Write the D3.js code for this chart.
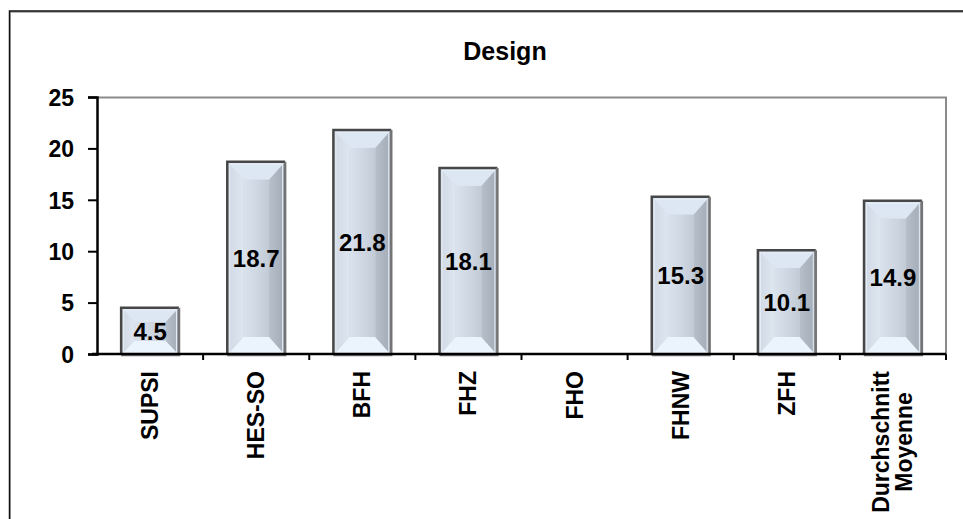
<!DOCTYPE html>
<html>
<head>
<meta charset="utf-8">
<script src="https://cdn.jsdelivr.net/npm/d3@7"></script>
<style>
  body { margin: 0; background: #fff; }
  text { font-family: "Liberation Sans", Arial, sans-serif; font-weight: bold; fill: #000; }
</style>
</head>
<body>
<div id="chart"></div>
<script>
// data
var categories = ["SUPSI", "HES-SO", "BFH", "FHZ", "FHO", "FHNW", "ZFH", "Durchschnitt\nMoyenne"];
var values = [4.5, 18.7, 21.8, 18.1, null, 15.3, 10.1, 14.9];
var yTicks = [0, 5, 10, 15, 20, 25];
var title = "Design";

var svgWidth = 963, svgHeight = 519;
var margin = {top: 97, left: 97, right: 16, bottom: 165};
var chartwidth = 946 - margin.left,
    chartheight = 354 - margin.top;

var svg = d3.select("#chart")
  .append("svg")
    .attr("width", svgWidth)
    .attr("height", svgHeight);

// outer frame (runs past the right and bottom edge)
svg.append("rect")
  .attr("x", 10).attr("y", 12)
  .attr("width", 1000).attr("height", 600)
  .attr("fill", "none").attr("stroke", "#999").attr("stroke-width", 1.5);
svg.append("rect")
  .attr("x", 9.5).attr("y", 11)
  .attr("width", 1000).attr("height", 600)
  .attr("fill", "none").attr("stroke", "#111").attr("stroke-width", 1.5);

svg.append("text")
  .attr("x", 505).attr("y", 60)
  .attr("text-anchor", "middle")
  .style("font-size", "25px")
  .text(title);

var g = svg.append("g")
  .attr("transform", "translate(" + margin.left + "," + margin.top + ")");

var x = d3.scaleBand()
  .domain(categories)
  .range([0, chartwidth])
  .paddingInner(0.455)
  .paddingOuter(0.2275);

var y = d3.scaleLinear()
  .domain([0, 25])
  .range([chartheight, 0]);

// plot area border (grey top + right)
g.append("path")
  .attr("d", "M0,0.5H" + chartwidth + "V" + chartheight)
  .attr("fill", "none").attr("stroke", "#8a8a8a").attr("stroke-width", 2);

// gradients for the bar faces
var defs = svg.append("defs");
var grad = defs.append("linearGradient").attr("id", "panel")
  .attr("x1", "0").attr("x2", "1").attr("y1", "0").attr("y2", "0");
grad.append("stop").attr("offset", "0%").attr("stop-color", "#d9e2ed");
grad.append("stop").attr("offset", "60%").attr("stop-color", "#cdd5e1");
grad.append("stop").attr("offset", "100%").attr("stop-color", "#c2cad6");
var gradL = defs.append("linearGradient").attr("id", "leftBevel")
  .attr("x1", "0").attr("x2", "1").attr("y1", "0").attr("y2", "0");
gradL.append("stop").attr("offset", "0%").attr("stop-color", "#cfd8e3");
gradL.append("stop").attr("offset", "100%").attr("stop-color", "#dee6f0");
var gradR = defs.append("linearGradient").attr("id", "rightBevel")
  .attr("x1", "0").attr("x2", "1").attr("y1", "0").attr("y2", "0");
gradR.append("stop").attr("offset", "0%").attr("stop-color", "#b7bfcb");
gradR.append("stop").attr("offset", "100%").attr("stop-color", "#a2aab6");

var data = categories.map(function(c, i) { return {cat: c, val: values[i]}; })
  .filter(function(d) { return d.val != null; });

var bars = g.selectAll("g.bar")
  .data(data)
  .enter().append("g")
  .attr("class", "bar");

bars.each(function(d) {
  var el = d3.select(this);
  var x0 = x(d.cat), w = x.bandwidth();
  var y0 = y(d.val), y1 = y(0) + 1, h = y1 - y0;
  var b = Math.min(16, h * 0.28);
  var bt = Math.min(18, h * 0.3);
  el.append("rect").attr("x", x0).attr("y", y0).attr("width", w).attr("height", h)
    .attr("fill", "#ccd4df");
  // top bevel
  el.append("path").attr("fill", "#dde7f3")
    .attr("d", "M" + x0 + "," + y0 + "H" + (x0 + w) + "L" + (x0 + w - b) + "," + (y0 + bt) +
               "H" + (x0 + b) + "Z");
  // bottom bevel
  el.append("path").attr("fill", "#ebf4fd")
    .attr("d", "M" + x0 + "," + y1 + "H" + (x0 + w) + "L" + (x0 + w - b) + "," + (y1 - bt) +
               "H" + (x0 + b) + "Z");
  // left bevel
  el.append("path").attr("fill", "url(#leftBevel)")
    .attr("d", "M" + x0 + "," + y0 + "L" + (x0 + b) + "," + (y0 + bt) + "V" + (y1 - bt) +
               "L" + x0 + "," + y1 + "Z");
  // right bevel
  el.append("path").attr("fill", "url(#rightBevel)")
    .attr("d", "M" + (x0 + w) + "," + y0 + "L" + (x0 + w - b) + "," + (y0 + bt) + "V" + (y1 - bt) +
               "L" + (x0 + w) + "," + y1 + "Z");
  // inner panel
  el.append("rect").attr("x", x0 + b).attr("y", y0 + bt)
    .attr("width", w - 2 * b).attr("height", Math.max(0, h - 2 * bt))
    .attr("fill", "url(#panel)");
  // thin highlight just inside the edge
  el.append("rect").attr("x", x0 + 2.5).attr("y", y0 + 2.5)
    .attr("width", w - 5).attr("height", h - 5)
    .attr("fill", "none").attr("stroke", "#e6edf6").attr("stroke-width", 1);
  // edges
  el.append("path").attr("fill", "none").attr("stroke", "#474747").attr("stroke-width", 2.5)
    .attr("d", "M" + x0 + "," + y1 + "V" + y0 + "H" + (x0 + w));
  el.append("path").attr("fill", "none").attr("stroke", "#747474").attr("stroke-width", 2.5)
    .attr("d", "M" + (x0 + w) + "," + y0 + "V" + y1 + "H" + x0);
});

// value labels
bars.append("text")
  .attr("x", function(d) { return x(d.cat) + x.bandwidth() / 2; })
  .attr("y", function(d) { return (y(d.val) + y(0)) / 2; })
  .attr("dy", "0.36em")
  .attr("text-anchor", "middle")
  .style("font-size", "24px")
  .text(function(d) { return d.val.toFixed(1); });

// Y axis
var yAxis = g.append("g")
  .call(d3.axisLeft(y).tickValues(yTicks).tickSize(9).tickPadding(14));
yAxis.select(".domain").attr("stroke", "#000").attr("stroke-width", 2.5);
yAxis.selectAll(".tick line").attr("stroke", "#000").attr("stroke-width", 2);
yAxis.selectAll(".tick text").style("font-size", "23px").attr("dy", "0.36em");

// X axis: ticks at category boundaries
var step = x.step();
var bounds = d3.range(categories.length + 1).map(function(i) { return i * step; });
var xAxis = g.append("g").attr("transform", "translate(0," + chartheight + ")");
xAxis.append("line").attr("x1", -5).attr("x2", chartwidth).attr("y1", 0).attr("y2", 0)
  .attr("stroke", "#000").attr("stroke-width", 2.5);
xAxis.selectAll("line.tick").data(bounds.slice(1)).enter().append("line")
  .attr("class", "tick")
  .attr("x1", function(d) { return d; }).attr("x2", function(d) { return d; })
  .attr("y1", 0).attr("y2", 6)
  .attr("stroke", "#000").attr("stroke-width", 2);

var labels = xAxis.selectAll("g.xlabel").data(categories).enter().append("g")
  .attr("class", "xlabel")
  .attr("transform", function(d) {
    return "translate(" + (x(d) + x.bandwidth() / 2) + ",17) rotate(-90)";
  });

labels.each(function(d) {
  var lines = d.split("\n");
  var el = d3.select(this);
  var t = el.append("text").style("font-size", "23px");
  lines.forEach(function(line, i) {
    t.append("tspan")
      .attr("x", 0)
      .attr("y", 8 + (i - (lines.length - 1) / 2) * 23)
      .text(line);
  });
  if (lines.length === 1) {
    t.attr("text-anchor", "end");
  } else {
    var maxLen = 0;
    t.selectAll("tspan").each(function() {
      maxLen = Math.max(maxLen, this.getComputedTextLength());
    });
    t.attr("text-anchor", "middle");
    t.selectAll("tspan").attr("x", -maxLen / 2);
  }
});
</script>
</body>
</html>
